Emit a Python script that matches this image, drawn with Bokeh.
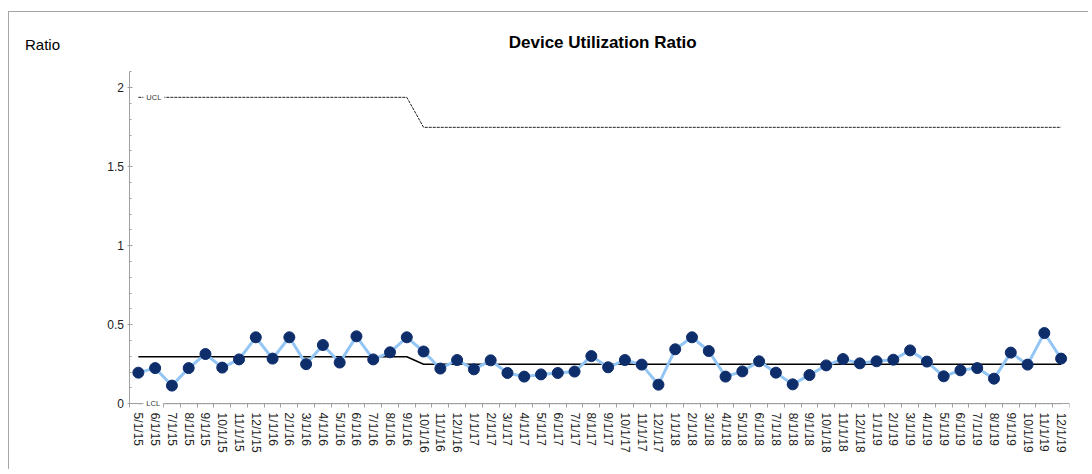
from bokeh.plotting import figure
from bokeh.models import FixedTicker, SingleIntervalTicker, Label, Range1d
from bokeh.embed import file_html
from bokeh.resources import INLINE

# ---- data ----
dates = ["5/1/15", "6/1/15", "7/1/15", "8/1/15", "9/1/15", "10/1/15", "11/1/15", "12/1/15",
         "1/1/16", "2/1/16", "3/1/16", "4/1/16", "5/1/16", "6/1/16", "7/1/16", "8/1/16", "9/1/16",
         "10/1/16", "11/1/16", "12/1/16",
         "1/1/17", "2/1/17", "3/1/17", "4/1/17", "5/1/17", "6/1/17", "7/1/17", "8/1/17", "9/1/17",
         "10/1/17", "11/1/17", "12/1/17",
         "1/1/18", "2/1/18", "3/1/18", "4/1/18", "5/1/18", "6/1/18", "7/1/18", "8/1/18", "9/1/18",
         "10/1/18", "11/1/18", "12/1/18",
         "1/1/19", "2/1/19", "3/1/19", "4/1/19", "5/1/19", "6/1/19", "7/1/19", "8/1/19", "9/1/19",
         "10/1/19", "11/1/19", "12/1/19"]

ratio = [0.196, 0.225, 0.114, 0.225, 0.314, 0.228, 0.280, 0.420,
         0.285, 0.420, 0.250, 0.371, 0.260, 0.426, 0.280, 0.325, 0.420,
         0.330, 0.222, 0.276,
         0.217, 0.274, 0.194, 0.171, 0.185, 0.194, 0.203, 0.301, 0.230,
         0.276, 0.247, 0.120,
         0.344, 0.420, 0.333, 0.171, 0.204, 0.268, 0.196, 0.122, 0.181,
         0.242, 0.282, 0.255,
         0.268, 0.278, 0.337, 0.266, 0.173, 0.211, 0.225, 0.158, 0.323,
         0.247, 0.447, 0.285]

# control limits per phase (phase 1: 5/1/15-9/1/16, phase 2: 10/1/16-12/1/19)
phase_counts = [17, 39]
cl_values = [0.297, 0.249]
ucl_values = [1.939, 1.749]
lcl_values = [0.0, 0.0]

center = [v for n, v in zip(phase_counts, cl_values) for _ in range(n)]
ucl = [v for n, v in zip(phase_counts, ucl_values) for _ in range(n)]
lcl = [v for n, v in zip(phase_counts, lcl_values) for _ in range(n)]

y_ticks = [0, 0.5, 1, 1.5, 2]
y_tick_labels = ["0", "0.5", "1", "1.5", "2"]
y_axis_max = 2.1

title_text = "Device Utilization Ratio"
y_name = "Ratio"

idx = list(range(len(dates)))
n = len(dates)

FONT = "Liberation Sans"
AXIS_GREY = "#a0a0a0"

# the frame covers the whole drawing area (texts are clipped to it);
# the axes are pinned at x=-0.5 and y=0
p = figure(width=1080, height=458, output_backend="svg", toolbar_location=None,
           x_range=Range1d(-7.68, n - 0.5), y_range=Range1d(-0.398, 2.476),
           min_border_left=0, min_border_right=20, min_border_top=0, min_border_bottom=4,
           background_fill_color="white", border_fill_color="white")
p.styles = {"margin-top": "11px", "margin-left": "8px",
            "border-top": "1px solid #a6a6a6", "border-left": "1px solid #a6a6a6"}
p.outline_line_color = None
p.grid.visible = False

# x axis
xa = p.xaxis[0]
xa.fixed_location = 0
xa.bounds = (-0.5, n - 0.5)
xa.ticker = FixedTicker(ticks=idx, minor_ticks=[i - 0.5 for i in range(n + 1)])
xa.major_label_overrides = {i: d for i, d in zip(idx, dates)}
xa.major_label_orientation = "vertical"
xa.major_tick_in = 0
xa.major_tick_out = 0
xa.minor_tick_in = 0
xa.minor_tick_out = 4
xa.minor_tick_line_color = AXIS_GREY
xa.axis_line_color = AXIS_GREY
xa.major_label_text_font = FONT
xa.major_label_text_font_size = "12px"
xa.major_label_text_color = "#222222"
xa.major_label_standoff = 5

# y axis
ya = p.yaxis[0]
ya.fixed_location = -0.5
ya.bounds = (0, y_axis_max)
ya.ticker = SingleIntervalTicker(interval=0.5, num_minor_ticks=5)
ya.major_label_overrides = {t: s for t, s in zip(y_ticks, y_tick_labels)}
ya.major_tick_in = 3
ya.major_tick_out = 2
ya.minor_tick_in = 2
ya.minor_tick_out = 0
ya.major_tick_line_color = AXIS_GREY
ya.minor_tick_line_color = AXIS_GREY
ya.axis_line_color = AXIS_GREY
ya.major_label_text_font = FONT
ya.major_label_text_font_size = "12px"
ya.major_label_text_color = "#222222"
ya.major_label_standoff = 4

# control lines
p.line(idx, ucl, line_color="#222222", line_width=1, line_dash="3 1")
p.line(idx, lcl, line_color="#444444", line_width=1, line_dash="3 1")
p.line(idx, center, line_color="black", line_width=1.5)

# data
p.line(idx, ratio, line_color="#93C6F5", line_width=3)
p.scatter(idx, ratio, size=11, fill_color="#0E2D6B", line_color="#0E2D6B")

# limit labels
for lim, name in ((ucl, "UCL"), (lcl, "LCL")):
    p.add_layout(Label(x=idx[0], y=lim[0], text=name, x_offset=5, text_baseline="middle",
                       text_font=FONT, text_font_size="7.5px", text_color="#333333",
                       background_fill_color="white", padding=3))

# title and y name
p.add_layout(Label(x=(n - 1) / 2, y=y_axis_max, text=title_text, x_offset=3, y_offset=29,
                   text_align="center", text_baseline="middle",
                   text_font=FONT, text_font_size="17px", text_font_style="bold",
                   text_color="black"))
p.add_layout(Label(x=-0.5, y=y_axis_max, text=y_name, x_offset=-105, y_offset=27,
                   text_baseline="middle", text_align="left",
                   text_font=FONT, text_font_size="15px", text_color="black"))

open("out.html", "w").write(file_html(p, INLINE))
